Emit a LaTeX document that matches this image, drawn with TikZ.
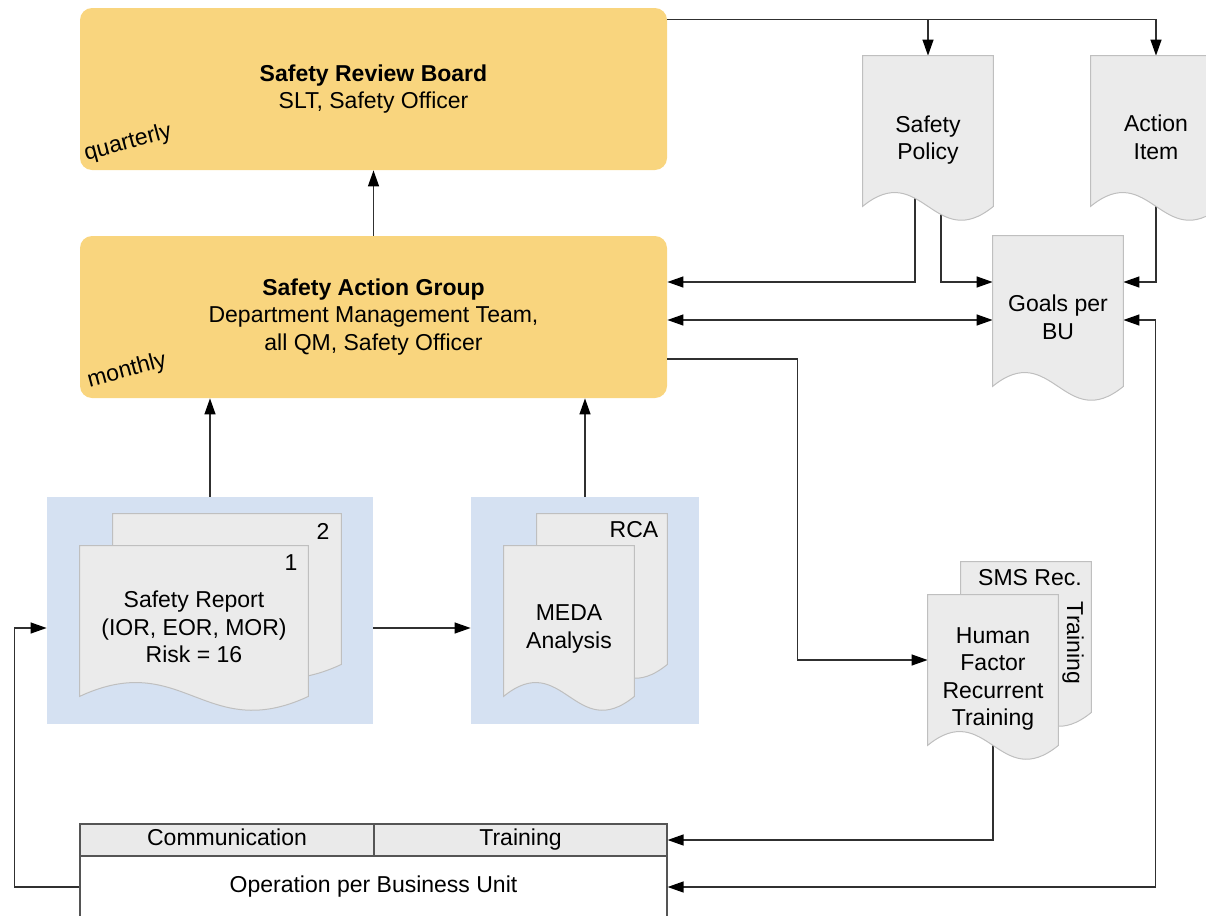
\documentclass[tikz,border=0pt]{standalone}
\usepackage{fontspec}
\setmainfont{Liberation Sans}
\usetikzlibrary{arrows.meta,calc}

\definecolor{grp}{HTML}{F9D57E}
\definecolor{pane}{HTML}{D5E1F2}
\definecolor{docgray}{HTML}{EBEBEB}
\definecolor{docedge}{HTML}{BFBFBF}
\definecolor{linec}{HTML}{303030}
\definecolor{boxedge}{HTML}{555555}
\definecolor{headgray}{HTML}{EAEAEA}

\tikzset{
  conn/.style={draw=linec, line width=0.65pt},
  tip/.style={},
  arr/.style={conn, -{Triangle[length=8pt,width=5.5pt,color=black]}},
  arrs/.style={conn, {Triangle[length=8pt,width=5.5pt,color=black]}-{Triangle[length=8pt,width=5.5pt,color=black]}},
  grpbox/.style={fill=grp, rounded corners=6pt, align=center, inner sep=0pt,
    minimum width=293.5pt, minimum height=81pt},
  pane/.style={fill=pane, inner sep=0pt, minimum height=113.5pt},
  docarea/.style={inner sep=0pt, minimum width=65pt, minimum height=81pt},
  docfill/.style={fill=docgray, draw=docedge, line width=0.5pt},
  docpath/.style={insert path={
    (#1.north west) -- (#1.north east) -- ($(#1.south east)+(0,-12)$)
    .. controls ($(#1.south west)!0.55!(#1.south east)+(0,36)$)
           and ($(#1.south west)!0.45!(#1.south east)+(0,-60)$)
    .. ($(#1.south west)+(0,-12)$) -- cycle}},
  txt/.style={align=center, inner sep=0pt},
  cell/.style={draw=boxedge, line width=0.6pt, inner sep=0pt,
    text height=8.3pt, text depth=2.4pt},
}

\begin{document}
\begin{tikzpicture}[x=0.5pt, y=-0.5pt, font=\fontsize{11.5}{13.8}\selectfont]
\useasboundingbox (0,0) rectangle (1206,916);
\clip (0,0) rectangle (1206,916);

% management bodies
\node[grpbox] (srb) at (373.5,89) {\textbf{Safety Review Board}\\SLT, Safety Officer};
\node[txt, rotate=15] (quarterly) at (128,143) {quarterly};
\node[grpbox] (sag) at (373.5,317) {\textbf{Safety Action Group}\\Department Management Team,\\all QM, Safety Officer};
\node[txt, rotate=15] (monthly) at (127,371) {monthly};

% report and analysis panes
\node[pane, minimum width=163pt] (rep) at (210,610.5) {};
\node[pane, minimum width=114pt] (ana) at (585,610.5) {};

% operation table
\node[cell, fill=headgray, minimum width=147pt, minimum height=16pt] (comm) at (227,840) {Communication};
\node[cell, fill=headgray, minimum width=146.5pt, minimum height=16pt] (train) at (520.5,840) {Training};
\node[cell, fill=white, minimum width=293.5pt, minimum height=31pt] (op) at (373.5,887) {Operation per Business Unit};

% document outlines (positions)
\node[docarea] (sp) at (928,137) {};
\node[docarea] (ai) at (1156,137) {};
\node[docarea] (goals) at (1058,317) {};
\node[docarea, minimum width=114pt] (d2) at (227,595) {};
\node[docarea, minimum width=114pt] (d1) at (194,627) {};
\node[docarea] (rca) at (602,595) {};
\node[docarea] (meda) at (569,627) {};
\node[docarea] (sms) at (1026,643) {};
\node[docarea] (hf) at (993,676) {};

% connectors
\coordinate (t0) at ([yshift=-6pt]srb.north east);
\draw[arr] (t0) -| (ai.north);
\draw[arr] (sp.north |- t0) -- (sp.north);
\draw[arr] (sag.north) -- (srb.south);
\draw[arr] (rep.north) -- (rep.north |- sag.south);
\draw[arr] (ana.north) -- (ana.north |- sag.south);
\draw[arr] ([yshift=-8.75pt]rep.east) -- ([yshift=-8.75pt]ana.west);
\draw[arr] (op.west) -- ++(-32.5pt,0) |- ([yshift=-8.75pt]rep.west);
\draw[arr] ([xshift=-6.5pt]sp.center) |- ([yshift=17.5pt]sag.east);
\draw[arr] ([xshift=6.5pt]sp.center) |- ([yshift=17.5pt]goals.west);
\draw[arrs] ([yshift=-1.5pt]sag.east) -- ([yshift=-1.5pt]goals.west);
\draw[arr] (ai.center) |- ([yshift=17.5pt]goals.east);
\draw[arrs] ([yshift=-1.5pt]goals.east) -- ++(16pt,0) |- (op.east);
\draw[arr] ([yshift=-21pt]sag.east) -- ++(65pt,0) |- ([yshift=8pt]hf.west);
\draw[arr] (hf.center) |- (train.east);

% document shapes
\path[docfill, docpath=sp];
\path[docfill, docpath=ai];
\path[docfill, docpath=goals];
\path[docfill, docpath=d2];
\path[docfill, docpath=d1];
\path[docfill, docpath=rca];
\path[docfill, docpath=meda];
\path[docfill, docpath=sms];
\path[docfill, docpath=hf];

% document texts
\node[txt] (sp-t) at ([yshift=-1.5pt]sp.center) {Safety\\Policy};
\node[txt] (ai-t) at (ai) {Action\\Item};
\node[txt] (goals-t) at (goals) {Goals per\\BU};
\node[txt] (d2-t) at (323,531) {2};
\node[txt] (d1-n) at (291,563) {1};
\node[txt] (d1-t) at (d1) {Safety Report\\(IOR, EOR, MOR)\\Risk = 16};
\node[txt] (rca-t) at (634,530) {RCA};
\node[txt] (meda-t) at ([yshift=-1pt]meda.center) {MEDA\\Analysis};
\node[txt] (sms-t) at (1030,578) {SMS Rec.};
\node[txt, rotate=-90] (sms-r) at (1073,643) {Training};
\node[txt] (hf-t) at ([yshift=-1.5pt]hf.center) {Human\\Factor\\Recurrent\\Training};
\end{tikzpicture}
\end{document}
